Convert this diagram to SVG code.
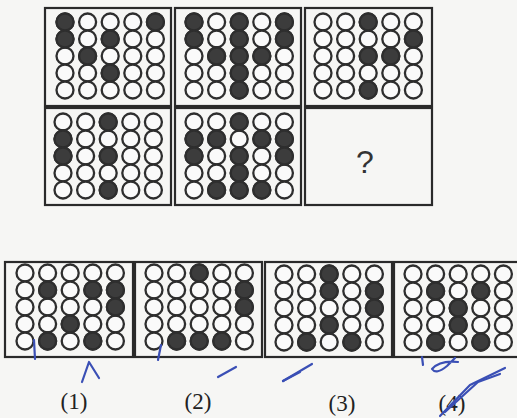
<svg xmlns="http://www.w3.org/2000/svg" xmlns:xlink="http://www.w3.org/1999/xlink" width="517" height="418" viewBox="0 0 517 418">
<style>
.box{fill:none;stroke:#2a2a2a;stroke-width:2.2}
.o{fill:#fafafa;stroke:#2e2e2e;stroke-width:2.3}
.f{fill:#3c3c3c;stroke:#2e2e2e;stroke-width:2.3}
.lbl{font-family:"Liberation Serif",serif;font-size:23px;fill:#222}
.q{font-family:"Liberation Sans",sans-serif;font-size:32px;fill:#333}
.pen{fill:none;stroke:#3a4fb5;stroke-width:2.2;stroke-linecap:round;stroke-linejoin:round}
</style>
<defs>
<g id="grid">
<g id="row"><circle class="o" cx="0" cy="0" r="8.5"/><circle class="o" cx="22.6" cy="0" r="8.5"/><circle class="o" cx="45.2" cy="0" r="8.5"/><circle class="o" cx="67.8" cy="0" r="8.5"/><circle class="o" cx="90.4" cy="0" r="8.5"/></g>
<use xlink:href="#row" y="17"/>
<use xlink:href="#row" y="34"/>
<use xlink:href="#row" y="51"/>
<use xlink:href="#row" y="68"/>
</g>
<circle id="d" class="f" cx="0" cy="0" r="8.5"/>
</defs>
<rect width="517" height="418" fill="#f6f6f4"/>

<g id="panel1">
<rect class="box" x="45" y="8" width="126" height="98"/>
<g transform="translate(65,22)"><use xlink:href="#grid"/>
<use xlink:href="#d" x="0" y="0"/><use xlink:href="#d" x="90.4" y="0"/>
<use xlink:href="#d" x="0" y="17"/><use xlink:href="#d" x="45.2" y="17"/>
<use xlink:href="#d" x="22.6" y="34"/>
<use xlink:href="#d" x="45.2" y="51"/></g>
</g>
<g id="panel2">
<rect class="box" x="175" y="8" width="126" height="98"/>
<g transform="translate(194,22)"><use xlink:href="#grid"/>
<use xlink:href="#d" x="0" y="0"/><use xlink:href="#d" x="45.2" y="0"/><use xlink:href="#d" x="90.4" y="0"/>
<use xlink:href="#d" x="0" y="17"/><use xlink:href="#d" x="45.2" y="17"/><use xlink:href="#d" x="90.4" y="17"/>
<use xlink:href="#d" x="22.6" y="34"/><use xlink:href="#d" x="45.2" y="34"/><use xlink:href="#d" x="67.8" y="34"/>
<use xlink:href="#d" x="45.2" y="51"/>
<use xlink:href="#d" x="45.2" y="68"/></g>
</g>
<g id="panel3">
<rect class="box" x="305" y="8" width="127" height="98"/>
<g transform="translate(323,22)"><use xlink:href="#grid"/>
<use xlink:href="#d" x="45.2" y="0"/>
<use xlink:href="#d" x="90.4" y="17"/>
<use xlink:href="#d" x="45.2" y="34"/><use xlink:href="#d" x="67.8" y="34"/>
<use xlink:href="#d" x="45.2" y="68"/></g>
</g>
<g id="panel4">
<rect class="box" x="45" y="108" width="126" height="97"/>
<g transform="translate(63,122)"><use xlink:href="#grid"/>
<use xlink:href="#d" x="45.2" y="0"/>
<use xlink:href="#d" x="0" y="17"/>
<use xlink:href="#d" x="0" y="34"/><use xlink:href="#d" x="45.2" y="34"/>
<use xlink:href="#d" x="45.2" y="68"/></g>
</g>
<g id="panel5">
<rect class="box" x="175" y="108" width="126" height="97"/>
<g transform="translate(194,122)"><use xlink:href="#grid"/>
<use xlink:href="#d" x="45.2" y="0"/>
<use xlink:href="#d" x="0" y="17"/><use xlink:href="#d" x="22.6" y="17"/><use xlink:href="#d" x="67.8" y="17"/><use xlink:href="#d" x="90.4" y="17"/>
<use xlink:href="#d" x="0" y="34"/><use xlink:href="#d" x="45.2" y="34"/><use xlink:href="#d" x="90.4" y="34"/>
<use xlink:href="#d" x="45.2" y="51"/>
<use xlink:href="#d" x="22.6" y="68"/><use xlink:href="#d" x="45.2" y="68"/><use xlink:href="#d" x="67.8" y="68"/></g>
</g>
<g id="panel6">
<rect class="box" x="305" y="108" width="127" height="97"/>
<text class="q" x="365" y="173" text-anchor="middle">?</text>
</g>

<g id="option1">
<rect class="box" x="5" y="262" width="128" height="95"/>
<g transform="translate(25,273)"><use xlink:href="#grid"/>
<use xlink:href="#d" x="22.6" y="17"/><use xlink:href="#d" x="67.8" y="17"/><use xlink:href="#d" x="90.4" y="17"/>
<use xlink:href="#d" x="90.4" y="34"/>
<use xlink:href="#d" x="45.2" y="51"/>
<use xlink:href="#d" x="22.6" y="68"/><use xlink:href="#d" x="67.8" y="68"/></g>
</g>
<g id="option2">
<rect class="box" x="135" y="262" width="127" height="95"/>
<g transform="translate(154,273)"><use xlink:href="#grid"/>
<use xlink:href="#d" x="45.2" y="0"/>
<use xlink:href="#d" x="90.4" y="17"/>
<use xlink:href="#d" x="90.4" y="34"/>
<use xlink:href="#d" x="22.6" y="68"/><use xlink:href="#d" x="45.2" y="68"/><use xlink:href="#d" x="67.8" y="68"/></g>
</g>
<g id="option3">
<rect class="box" x="265" y="262" width="127" height="95"/>
<g transform="translate(284,274)"><use xlink:href="#grid"/>
<use xlink:href="#d" x="45.2" y="0"/>
<use xlink:href="#d" x="45.2" y="17"/><use xlink:href="#d" x="90.4" y="17"/>
<use xlink:href="#d" x="90.4" y="34"/>
<use xlink:href="#d" x="45.2" y="51"/>
<use xlink:href="#d" x="22.6" y="68"/><use xlink:href="#d" x="67.8" y="68"/></g>
</g>
<g id="option4">
<rect class="box" x="394" y="262" width="130" height="95"/>
<g transform="translate(413,274)"><use xlink:href="#grid"/>
<use xlink:href="#d" x="22.6" y="17"/><use xlink:href="#d" x="67.8" y="17"/>
<use xlink:href="#d" x="45.2" y="34"/>
<use xlink:href="#d" x="45.2" y="51"/>
<use xlink:href="#d" x="22.6" y="68"/><use xlink:href="#d" x="67.8" y="68"/></g>
</g>

<g id="labels">
<text class="lbl" x="74" y="409" text-anchor="middle">(1)</text>
<text class="lbl" x="198" y="409" text-anchor="middle">(2)</text>
<text class="lbl" x="342" y="411" text-anchor="middle">(3)</text>
<text class="lbl" x="452" y="411" text-anchor="middle">(4)</text>
</g>

<g id="pen-marks">
<path class="pen" d="M34 340 L35 359"/>
<path class="pen" d="M82 382 L89 362 L99 378"/>
<path class="pen" d="M161 345 L158 360"/>
<path class="pen" d="M218 377 L236 367"/>
<path class="pen" d="M283 381 L312 364"/>
<path class="pen" d="M283 381 L300 372" stroke-width="3.5"/>
<path class="pen" d="M422 357 L423 365"/>
<path class="pen" d="M458 362 Q440 360 432 369 Q436 375 447 366 L455 358"/>
<path class="pen" d="M440 416 L470 385 L505 368"/>
<path class="pen" d="M445 412 L478 382 L500 374"/>
</g>
</svg>
